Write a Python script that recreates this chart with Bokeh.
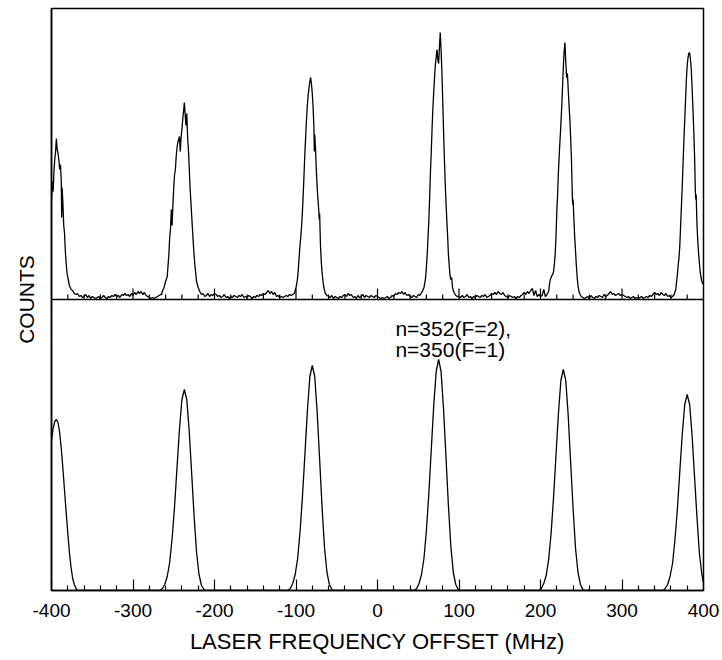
from bokeh.plotting import figure
from bokeh.models import Range1d, FixedTicker, Label, Span, CustomJSTickFormatter
from bokeh.embed import file_html
from bokeh.resources import INLINE

FONT = "Liberation Sans"

# ---------------- x axis ----------------
major_ticks_mhz = [-400, -300, -200, -100, 0, 100, 200, 300, 400]
minor_ticks_mhz = [v for v in range(-380, 400, 20) if v % 100 != 0]
x_axis_title = "LASER FREQUENCY OFFSET (MHz)"
y_axis_title = "COUNTS"

# ---------------- top panel: measured spectrum (counts) ----------------
top_p1_freq = [-400, -399, -398, -397, -396, -395, -394, -393, -392, -391, -390, -389, -388, -387.5, -387,
               -386, -385, -384, -383, -382, -381, -380, -379, -378, -376, -374, -372, -370, -368, -366, -364, -362]
top_p1_counts = [100, 118, 108, 128, 140, 148, 161, 150, 146, 140, 130, 135, 118, 82, 112,
                 96, 74, 66, 48, 36, 27, 22, 18, 14, 10, 9, 6, 5, 6, 3, 4, 2]

top_gap1_freq = list(range(-360, -265, 2))
top_gap1_counts = [3, 5, 2, 4, 1, 3, 2, 1, 2, 3, 1, 2, 4, 2, 1, 3, 2, 4, 3, 5, 3, 4, 2, 5, 4, 6, 4, 5, 3, 6,
                   4, 7, 5, 8, 6, 8, 5, 7, 4, 3, 2, 1, 2, 1, 2, 3, 4, 5]

top_p2_freq = [-265, -264, -262, -260, -258, -256, -255, -254, -253, -252, -251, -250, -249, -248, -247, -246,
               -245, -244, -243, -242, -241, -240, -239, -238, -237, -236, -235, -234, -233, -232, -231, -230,
               -229, -228, -227, -226, -225, -224, -223, -222, -220, -218, -216, -214, -212]
top_p2_counts = [5, 8, 12, 18, 23, 45, 62, 70, 90, 74, 95, 112, 125, 130, 143, 152,
                 157, 160, 163, 148, 162, 170, 180, 188, 197, 185, 174, 186, 162, 150, 132, 112,
                 98, 84, 70, 56, 44, 34, 26, 18, 12, 8, 5, 6, 3]

top_gap2_freq = list(range(-210, -103, 2))
top_gap2_counts = [4, 6, 3, 5, 4, 6, 5, 3, 4, 2, 3, 5, 2, 3, 1, 3, 2, 4, 3, 2, 4, 3, 5, 2, 3, 2, 4, 3, 1, 3,
                   2, 4, 3, 5, 4, 6, 5, 7, 9, 6, 8, 5, 7, 3, 4, 2, 3, 2, 3, 4, 3, 5, 4, 5]

top_p3_freq = [-102, -100, -99, -98, -97, -96, -95, -94, -93, -92, -91, -90, -89, -88, -87, -86, -85, -84,
               -83, -82, -81, -80, -79, -78, -77.5, -77, -76, -75, -74, -73, -72, -71.5, -71, -70, -69, -68,
               -67, -66, -65, -64, -62]
top_p3_counts = [6, 12, 16, 22, 32, 44, 55, 64, 75, 90, 108, 128, 148, 165, 182, 195, 205, 212,
                 218, 222, 215, 206, 192, 172, 148, 165, 150, 128, 112, 100, 88, 80, 86, 55, 38, 27,
                 19, 13, 9, 6, 4]

top_gap3_freq = list(range(-60, 55, 2))
top_gap3_counts = [3, 2, 4, 1, 3, 2, 1, 3, 2, 4, 5, 3, 6, 4, 5, 2, 3, 1, 4, 2, 3, 5, 2, 4, 3, 2, 4, 3, 2, 4,
                   3, 2, 1, 2, 1, 2, 3, 1, 2, 4, 3, 6, 5, 7, 6, 8, 5, 7, 4, 5, 3, 2, 4, 3, 2, 5, 4, 7]

top_p4_freq = [55, 56, 57, 58, 59, 60, 61, 62, 63, 64, 65, 66, 67, 68, 69, 70, 71, 72, 73, 74, 75, 76, 77,
               78, 79, 80, 81, 82, 83, 84, 85, 86, 87, 88, 89, 90, 91, 92, 93, 94, 96, 98]
top_p4_counts = [8, 10, 12, 16, 22, 32, 45, 62, 80, 102, 128, 148, 172, 192, 208, 222, 235, 242, 250, 240,
                 236, 252, 267, 250, 228, 200, 170, 142, 118, 98, 80, 64, 45, 34, 24, 20, 22, 12, 9, 7, 4, 3]

top_gap4_freq = list(range(100, 211, 2))
top_gap4_counts = [3, 2, 4, 2, 3, 5, 2, 3, 1, 3, 2, 4, 3, 2, 4, 3, 5, 2, 3, 4, 6, 5, 7, 5, 8, 6, 5, 7, 4, 3,
                   2, 4, 3, 2, 3, 1, 3, 2, 4, 5, 7, 5, 8, 6, 9, 11, 4, 9, 3, 5, 3, 4, 10, 3, 5, 8]

top_p5_freq = [211, 212, 213, 214, 215, 216, 217, 218, 219, 220, 221, 222, 223, 224, 225, 226, 227, 228, 229,
               230, 231, 232, 233, 234, 235, 236, 237, 238, 239, 239.5, 240, 241, 242, 243, 244, 245, 246,
               247, 248]
top_p5_counts = [15, 20, 22, 24, 25, 28, 35, 45, 62, 88, 105, 128, 145, 160, 175, 192, 212, 232, 248,
                 257, 238, 222, 226, 210, 195, 180, 162, 140, 105, 95, 100, 80, 62, 48, 34, 22, 14, 9, 6]

top_gap5_freq = list(range(250, 367, 2))
top_gap5_counts = [3, 2, 1, 2, 3, 1, 4, 2, 1, 3, 2, 4, 3, 2, 5, 3, 4, 6, 8, 5, 6, 4, 5, 6, 4, 5, 4, 3, 2, 3,
                   1, 2, 3, 1, 2, 1, 2, 3, 1, 2, 3, 2, 4, 3, 5, 7, 5, 6, 4, 7, 5, 4, 6, 3, 4, 2, 3, 5, 10]

top_p6_freq = [367, 368, 369, 370, 371, 372, 373, 374, 375, 376, 377, 378, 379, 380, 381, 382, 383, 384,
               385, 386, 387, 388, 389, 390, 390.5, 391, 392, 393, 394, 395, 396, 397, 398, 399, 400]
top_p6_counts = [18, 25, 35, 42, 55, 75, 95, 115, 138, 160, 180, 200, 220, 234, 242, 246, 247, 240,
                 230, 212, 192, 170, 145, 108, 100, 105, 75, 58, 46, 36, 27, 22, 18, 16, 15]

# ---------------- bottom panel: calculated spectrum ----------------
bot_p1_freq = [-400, -398, -396, -394, -392, -390, -388, -386, -384, -382, -380, -378, -376, -374, -372, -370, -368]
bot_p1_counts = [150, 162, 169, 171, 168, 158, 142, 122, 100, 78, 57, 38, 23, 12, 6, 2, 0]

bot_p2_freq = [-267, -264, -261, -258, -255, -252, -249, -246, -243, -240, -237, -234, -231, -228, -225,
               -222, -219, -216, -213, -210]
bot_p2_counts = [0, 2, 6, 14, 28, 52, 84, 123, 161, 191, 201, 191, 159, 117, 74, 38, 16, 5, 1, 0]

bot_p3_freq = [-110, -107, -104, -101, -98, -95, -92, -89, -86, -83, -80, -77, -74, -71, -68, -65, -62,
               -59, -56, -53]
bot_p3_counts = [0, 2, 7, 16, 32, 59, 95, 137, 180, 214, 225, 214, 178, 131, 83, 43, 18, 6, 1, 0]

bot_p4_freq = [45, 48, 51, 54, 57, 60, 63, 66, 69, 72, 75, 78, 81, 84, 87, 90, 93, 96, 99, 102]
bot_p4_counts = [0, 2, 7, 16, 32, 60, 97, 141, 185, 219, 231, 219, 182, 134, 85, 44, 18, 6, 1, 0]

bot_p5_freq = [198, 201, 204, 207, 210, 213, 216, 219, 222, 225, 228, 231, 234, 237, 240, 243, 246, 249,
               252, 255]
bot_p5_counts = [0, 2, 7, 15, 31, 57, 93, 135, 177, 210, 221, 210, 175, 128, 82, 42, 18, 6, 1, 0]

bot_p6_freq = [350, 353, 356, 359, 362, 365, 368, 371, 374, 377, 380, 383, 386, 389, 392, 395, 398, 400]
bot_p6_counts = [0, 2, 6, 14, 27, 51, 82, 120, 157, 186, 196, 186, 155, 114, 73, 37, 16, 8]

# ---------------- annotation ----------------
annotation_lines = ["n=352(F=2),", "n=350(F=1)"]

top_freq = (top_p1_freq + top_gap1_freq + top_p2_freq + top_gap2_freq + top_p3_freq + top_gap3_freq
            + top_p4_freq + top_gap4_freq + top_p5_freq + top_gap5_freq + top_p6_freq)
top_counts = (top_p1_counts + top_gap1_counts + top_p2_counts + top_gap2_counts + top_p3_counts
              + top_gap3_counts + top_p4_counts + top_gap4_counts + top_p5_counts + top_gap5_counts
              + top_p6_counts)
bot_freq = bot_p1_freq + bot_p2_freq + bot_p3_freq + bot_p4_freq + bot_p5_freq + bot_p6_freq
bot_counts = bot_p1_counts + bot_p2_counts + bot_p3_counts + bot_p4_counts + bot_p5_counts + bot_p6_counts
assert len(top_freq) == len(top_counts), (len(top_freq), len(top_counts))
assert len(bot_freq) == len(bot_counts)

PANEL = 291  # height of each panel in counts units (1 unit = 1 px)

p = figure(width=722, height=660, x_range=Range1d(-400, 400), y_range=Range1d(0, 2 * PANEL),
           output_backend="svg", toolbar_location=None,
           min_border_left=51, min_border_right=19, min_border_top=8, min_border_bottom=70)
p.extra_y_ranges = {"top": Range1d(-PANEL, PANEL)}
p.grid.visible = False
p.background_fill_color = "white"
p.border_fill_color = "white"
p.outline_line_color = "black"
p.outline_line_width = 1.5

# x axis
xa = p.xaxis[0]
xa.ticker = FixedTicker(ticks=major_ticks_mhz, minor_ticks=minor_ticks_mhz)
xa.formatter = CustomJSTickFormatter(code="return tick.toFixed(0);")
xa.major_tick_in = 11
xa.major_tick_out = 0
xa.minor_tick_in = 5
xa.minor_tick_out = 0
xa.axis_line_width = 1.5
xa.major_tick_line_width = 1.2
xa.minor_tick_line_width = 1.2
xa.major_label_text_font = FONT
xa.major_label_text_font_size = "19px"
xa.major_label_text_color = "black"
xa.major_label_standoff = 13
xa.axis_label = x_axis_title
xa.axis_label_text_font = FONT
xa.axis_label_text_font_size = "22px"
xa.axis_label_text_font_style = "normal"
xa.axis_label_text_color = "black"
xa.axis_label_standoff = 9

# y axis: no ticks, just the label
ya = p.yaxis[0]
ya.ticker = FixedTicker(ticks=[])
ya.major_tick_out = 0
ya.major_tick_in = 0
ya.minor_tick_out = 0
ya.minor_tick_in = 0
ya.axis_line_width = 1.5
ya.axis_label = y_axis_title
ya.axis_label_text_font = FONT
ya.axis_label_text_font_size = "21px"
ya.axis_label_text_font_style = "normal"
ya.axis_label_text_color = "black"
ya.axis_label_standoff = 14

# divider between panels
p.add_layout(Span(location=PANEL, dimension="width", line_color="black", line_width=1.5))

# tick marks on the top panel's baseline
p.segment(x0=minor_ticks_mhz, y0=[0] * len(minor_ticks_mhz), x1=minor_ticks_mhz,
          y1=[5] * len(minor_ticks_mhz), y_range_name="top", line_color="black", line_width=1.2)
inner_major = major_ticks_mhz[1:-1]
p.segment(x0=inner_major, y0=[0] * len(inner_major), x1=inner_major,
          y1=[11] * len(inner_major), y_range_name="top", line_color="black", line_width=1.2)

# traces
p.line(top_freq, top_counts, y_range_name="top", line_color="black", line_width=1.3)
p.line(bot_freq, bot_counts, line_color="black", line_width=1.3)

# annotation
for i, txt in enumerate(annotation_lines):
    p.add_layout(Label(x=22, y=262 - 21 * i, text=txt, text_font=FONT, text_font_size="21px",
                       text_color="black", text_align="left", text_baseline="alphabetic"))

open("out.html", "w").write(file_html(p, INLINE))
